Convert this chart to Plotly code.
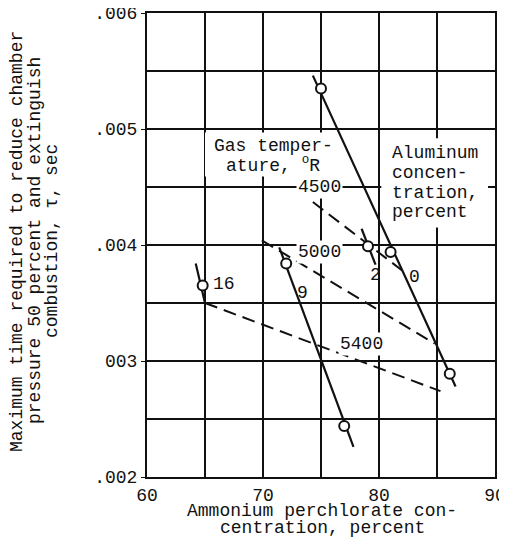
import plotly.graph_objects as go

# ---- data ----
# Aluminum concentration lines (solid) : endpoints and test points
al_labels = ["0", "2", "9", "16"]
al0_line_x = [74.3, 86.6]
al0_line_y = [0.00546, 0.00278]
al0_pts_x = [75.0, 81.0, 86.1]
al0_pts_y = [0.00535, 0.00394, 0.00289]

al2_line_x = [78.5, 79.7]
al2_line_y = [0.00414, 0.00383]
al2_pts_x = [79.05]
al2_pts_y = [0.00399]

al9_line_x = [71.4, 77.8]
al9_line_y = [0.00398, 0.00226]
al9_pts_x = [72.0, 77.0]
al9_pts_y = [0.00384, 0.00244]

al16_line_x = [64.2, 65.0]
al16_line_y = [0.00384, 0.00350]
al16_pts_x = [64.8]
al16_pts_y = [0.00365]

# Gas temperature lines (dashed), deg R
gt_labels = ["4500", "5000", "5400"]
gt4500_x = [74.3, 82.0]
gt4500_y = [0.00437, 0.00378]
gt5000_x = [69.9, 84.8]
gt5000_y = [0.00404, 0.00315]
gt5400_x = [65.0, 85.3]
gt5400_y = [0.00350, 0.00274]

# label anchor positions (data coords)
al_label_x = [83.1, 79.7, 73.4, 66.6]
al_label_y = [0.00372, 0.00374, 0.00359, 0.00366]
gt_label_x = [74.9, 74.9, 78.5]
gt_label_y = [0.00450, 0.00394, 0.00315]

gas_text_lines = ["Gas temper-", "ature, <sup>o</sup>R"]
gas_text_y = [0.004853, 0.00469]
alu_text_lines = ["Aluminum", "concen-", "tration,", "percent"]
alu_text_y = [0.004793, 0.004621, 0.004448, 0.004284]

# white panels behind the two key texts (x0, x1, y0, y1 in data units)
gas_panel = [65.0, 76.6, 0.00459, 0.00497]
alu_panel = [80.2, 89.4, 0.00415, 0.00492]

y_title_lines = ["Maximum time required to reduce chamber",
                 "pressure 50 percent and extinguish",
                 "combustion, \u03c4, sec"]
y_title_xpaper = [-0.3736, -0.3218, -0.273]
x_title_lines = ["Ammonium perchlorate con-", "centration, percent"]
x_title_ypaper = [-0.0733, -0.1100]

x_tickvals = [60, 70, 80, 90]
x_ticktext = ["60", "70", "80", "90"]
x_minorvals = [65, 75, 85]
y_tickvals = [0.002, 0.003, 0.004, 0.005, 0.006]
y_ticktext = [".002", "003", ".004", ".005", ".006"]
y_minorvals = [0.0025, 0.0035, 0.0045, 0.0055]

FONT = "Liberation Mono, Courier New, monospace"
FS = 18
BLACK = "#111111"

fig = go.Figure()

solid_sets = [
    (al0_line_x, al0_line_y, al0_pts_x, al0_pts_y),
    (al2_line_x, al2_line_y, al2_pts_x, al2_pts_y),
    (al9_line_x, al9_line_y, al9_pts_x, al9_pts_y),
    (al16_line_x, al16_line_y, al16_pts_x, al16_pts_y),
]
dashed_sets = [(gt4500_x, gt4500_y), (gt5000_x, gt5000_y), (gt5400_x, gt5400_y)]

for lx, ly in dashed_sets:
    fig.add_trace(go.Scatter(x=lx, y=ly, mode="lines",
                             line=dict(color=BLACK, width=2, dash="13px,7px"),
                             showlegend=False, hoverinfo="skip"))

for lx, ly, px, py in solid_sets:
    fig.add_trace(go.Scatter(x=lx, y=ly, mode="lines",
                             line=dict(color=BLACK, width=2.2),
                             showlegend=False, hoverinfo="skip"))
for lx, ly, px, py in solid_sets:
    fig.add_trace(go.Scatter(x=px, y=py, mode="markers",
                             marker=dict(symbol="circle", size=10, color="white",
                                         line=dict(color=BLACK, width=2)),
                             showlegend=False))

for p in (gas_panel, alu_panel):
    fig.add_shape(type="rect", xref="x", yref="y", x0=p[0], x1=p[1], y0=p[2], y1=p[3],
                  fillcolor="white", line=dict(width=0), layer="between")

fnt = dict(family=FONT, size=FS, color=BLACK)
annotations = []
for t, x, y in zip(al_labels, al_label_x, al_label_y):
    annotations.append(dict(x=x, y=y, xref="x", yref="y", text=t, showarrow=False, font=fnt))
for t, x, y in zip(gt_labels, gt_label_x, gt_label_y):
    annotations.append(dict(x=x, y=y, xref="x", yref="y", text=t, showarrow=False,
                            bgcolor="white", borderpad=1, font=fnt))

for t, y in zip(gas_text_lines, gas_text_y):
    annotations.append(dict(x=70.9, y=y, xref="x", yref="y", text=t, showarrow=False,
                            xanchor="center", font=fnt))
for t, y in zip(alu_text_lines, alu_text_y):
    annotations.append(dict(x=80.95, y=y, xref="x", yref="y", text=t, showarrow=False,
                            xanchor="left", font=fnt))

for t, x in zip(y_title_lines, y_title_xpaper):
    annotations.append(dict(x=x, y=0.5086, xref="paper", yref="paper", text=t,
                            textangle=-90, showarrow=False, xanchor="center",
                            yanchor="middle", font=fnt))
for t, y in zip(x_title_lines, x_title_ypaper):
    annotations.append(dict(x=0.503, y=y, xref="paper", yref="paper", text=t,
                            showarrow=False, xanchor="center", yanchor="middle", font=fnt))

grid = dict(showgrid=True, gridcolor=BLACK, gridwidth=1.5)

fig.update_layout(
    width=499, height=532,
    margin=dict(l=139, r=12, t=5, b=63, autoexpand=False),
    paper_bgcolor="white", plot_bgcolor="white",
    font=fnt,
    annotations=annotations,
    xaxis=dict(range=[60, 90], tickmode="array", tickvals=x_tickvals, ticktext=x_ticktext,
               minor=dict(tickvals=x_minorvals, ticks="", **grid),
               zeroline=False, automargin=False,
               showline=True, linecolor=BLACK, linewidth=2, mirror=True,
               ticks="", tickfont=fnt, ticklabeloverflow="allow", **grid),
    yaxis=dict(range=[0.002, 0.006], tickmode="array", tickvals=y_tickvals, ticktext=y_ticktext,
               minor=dict(tickvals=y_minorvals, ticks="", **grid),
               zeroline=False, automargin=False,
               showline=True, linecolor=BLACK, linewidth=2, mirror=True,
               ticks="outside", ticklen=4, tickcolor=BLACK, tickfont=fnt,
               ticklabeloverflow="allow", **grid),
)

fig.write_html("out.html")
